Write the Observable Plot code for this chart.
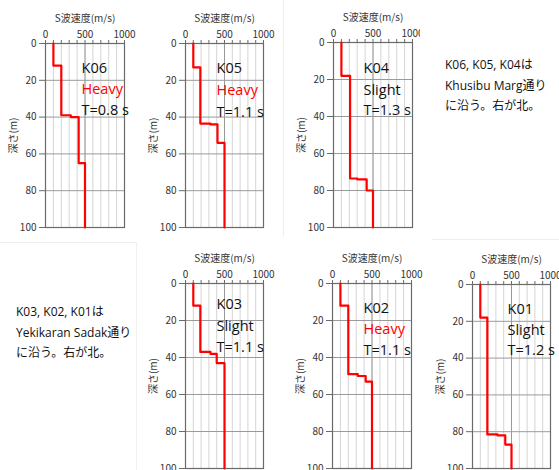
<!DOCTYPE html>
<html><head><meta charset="utf-8">
<script src="https://cdn.jsdelivr.net/npm/d3@7"></script>
<script src="https://cdn.jsdelivr.net/npm/@observablehq/plot@0.6"></script>
<style>
body{margin:0;width:559px;height:470px;overflow:hidden;background:#fff;position:relative;font-family:"Noto Sans CJK JP",sans-serif}
.panel{position:absolute}
.panel svg{display:block;max-width:none !important}
.note{position:absolute;font-family:"Open Sans","Noto Sans CJK JP",sans-serif;font-size:12px;line-height:20.5px;color:#111;white-space:nowrap}
.rule{position:absolute;background:#efefef}
</style></head><body>
<script>
// ---- data ----
const stations = ["K06", "K05", "K04", "K03", "K02", "K01"];
const damage   = ["Heavy", "Heavy", "Slight", "Slight", "Heavy", "Slight"];
const periods  = ["T=0.8 s", "T=1.1 s", "T=1.3 s", "T=1.1 s", "T=1.1 s", "T=1.2 s"];
// layer top depths (m) and S-wave velocity (m/s) of each layer
const layerTops = [
  [0, 12, 39, 40, 65],
  [0, 13, 43.5, 44, 54],
  [0, 18, 73.5, 74, 80],
  [0, 12, 37, 38, 43],
  [0, 12, 49, 50, 53],
  [0, 18, 81.5, 82, 87]
];
const layerVs = [
  [100, 200, 320, 420, 500],
  [100, 190, 320, 410, 500],
  [100, 210, 300, 420, 500],
  [100, 190, 320, 400, 500],
  [100, 200, 320, 420, 500],
  [100, 190, 320, 420, 500]
];
const bottomDepth = 100;
const xLabelTicks = [0, 500, 1000];
const xMinorTicks = [0, 100, 200, 300, 400, 500, 600, 700, 800, 900, 1000];
const yTicks = [0, 20, 40, 60, 80, 100];
const xTitle = "S波速度(m/s)";
const yTitle = "深さ(m)";
const notes = [
  ["K06, K05, K04は", "Khusibu Marg通り", "に沿う。右が北。"],
  ["K03, K02, K01は", "Yekikaran Sadak通り", "に沿う。右が北。"]
];

// ---- layout (plot-area pixel boxes) ----
const boxes = [
  {x0: 45,  x1: 124, y0: 43,  y1: 227, right: 140, tx: 36, ty: [25, 46, 67]},
  {x0: 185, x1: 263, y0: 43,  y1: 227, right: 282, tx: 31, ty: [25, 47, 69]},
  {x0: 333, x1: 412, y0: 42,  y1: 227, right: 420, tx: 30, ty: [26, 48, 68]},
  {x0: 185, x1: 263, y0: 283, y1: 468, right: 290, tx: 31, ty: [21, 43, 64]},
  {x0: 332, x1: 411, y0: 283, y1: 468, right: 432, tx: 31, ty: [25, 46, 67]},
  {x0: 472, x1: 550, y0: 284, y1: 468, right: 575, tx: 35, ty: [25, 46, 66]}
];

// faint separators from the source slide
[[283, 0, 1, 237], [432, 239, 127, 1], [0, 242, 137, 1], [136, 242, 1, 228]].forEach(([l, t, w, h]) => {
  const d = document.createElement("div");
  d.className = "rule";
  Object.assign(d.style, {left: l + "px", top: t + "px", width: w + "px", height: h + "px"});
  document.body.appendChild(d);
});

const ML = 45, MT = 43, MB = 14;
stations.forEach((name, i) => {
  const b = boxes[i];
  const tops = layerTops[i], vs = layerVs[i];
  const pts = [];
  tops.forEach((t, k) => {
    const bot = k + 1 < tops.length ? tops[k + 1] : bottomDepth;
    pts.push({vs: vs[k], depth: t});
    pts.push({vs: vs[k], depth: bot});
  });
  const mr = b.right - b.x1;
  const W = ML + (b.x1 - b.x0) + mr;
  const H = MT + (b.y1 - b.y0) + MB;
  const chart = Plot.plot({
    width: W, height: H,
    marginLeft: ML, marginRight: mr, marginTop: MT, marginBottom: MB,
    x: {domain: [0, 1000], axis: null},
    y: {domain: [0, 100], reverse: true, axis: null},
    style: {fontFamily: '"Noto Sans CJK JP", sans-serif', fontSize: "10px", color: "#333", background: "transparent"},
    marks: [
      Plot.ruleX(xMinorTicks, {stroke: "#d4d4d4", strokeWidth: 1}),
      Plot.ruleX([500], {stroke: "#9a9a9a", strokeWidth: 1}),
      Plot.ruleY([20, 40, 60, 80], {stroke: "#9a9a9a", strokeWidth: 1}),
      Plot.frame({stroke: "#6a6a6a", strokeWidth: 1.2}),
      Plot.axisX({anchor: "top", ticks: xMinorTicks, tickFormat: d => xLabelTicks.includes(d) ? String(d) : "",
        tickSize: 4, tickPadding: 2, stroke: "#6a6a6a",
        label: xTitle, labelAnchor: "center", labelOffset: 29, labelArrow: "none"}),
      Plot.axisY({anchor: "left", ticks: yTicks, tickSize: 6, tickPadding: 3, stroke: "#6a6a6a",
        label: yTitle, labelAnchor: "center", labelOffset: 36, labelArrow: "none"}),
      Plot.line(pts, {x: "vs", y: "depth", stroke: "#ff0000", strokeWidth: 2.2}),
      Plot.text([name], {frameAnchor: "top-left", dx: b.tx, dy: b.ty[0], textAnchor: "start", lineAnchor: "middle",
        fontFamily: '"Open Sans", sans-serif', fontSize: 14.5, fill: "#111"}),
      Plot.text([damage[i]], {frameAnchor: "top-left", dx: b.tx, dy: b.ty[1], textAnchor: "start", lineAnchor: "middle",
        fontFamily: '"Open Sans", sans-serif', fontSize: 14.5, fill: damage[i] === "Heavy" ? "#ff0000" : "#111"}),
      Plot.text([periods[i]], {frameAnchor: "top-left", dx: b.tx, dy: b.ty[2], textAnchor: "start", lineAnchor: "middle",
        fontFamily: '"Open Sans", sans-serif', fontSize: 14.5, fill: "#111"})
    ]
  });
  const div = document.createElement("div");
  div.className = "panel";
  div.style.left = (b.x0 - ML) + "px";
  div.style.top = (b.y0 - MT) + "px";
  div.style.width = W + "px";
  div.style.height = H + "px";
  div.appendChild(chart);
  document.body.appendChild(div);
});

const notePos = [[445, 55], [16, 302]];
notes.forEach((lines, i) => {
  const d = document.createElement("div");
  d.className = "note";
  d.style.left = notePos[i][0] + "px";
  d.style.top = notePos[i][1] + "px";
  d.innerHTML = lines.join("<br>");
  document.body.appendChild(d);
});
</script>
</body></html>
